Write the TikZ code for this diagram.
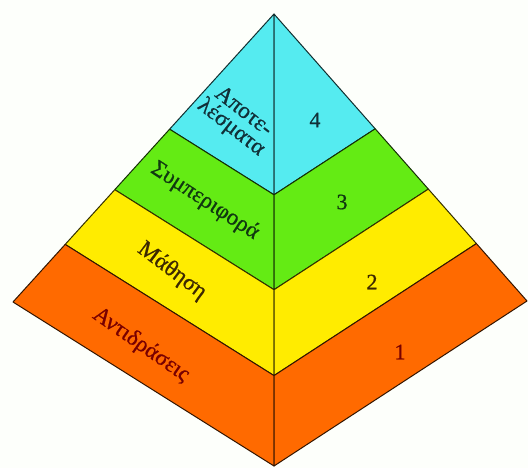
\documentclass[tikz,border=0pt]{standalone}
\usepackage{fontspec}
\setmainfont{Liberation Serif}
\newfontfamily\lblfont[FakeBold=0.8]{Liberation Serif}
\usetikzlibrary{calc}
\definecolor{bgw}{RGB}{253,255,251}
\definecolor{cyanL}{RGB}{85,235,240}
\definecolor{greenL}{RGB}{100,235,20}
\definecolor{yellowL}{RGB}{255,236,0}
\definecolor{orangeL}{RGB}{255,106,0}
\definecolor{tcyan}{RGB}{16,48,56}
\definecolor{tgreen}{RGB}{16,56,16}
\definecolor{tyellow}{RGB}{60,40,0}
\definecolor{torange}{RGB}{120,0,0}
\tikzset{
  face/.style={line width=1pt, line join=round},
  lbl/.style={font=\lblfont\fontsize{23}{20}\selectfont, inner sep=0pt, align=center},
  num/.style={font=\lblfont\fontsize{22}{22}\selectfont, inner sep=0pt}
}
\begin{document}
\begin{tikzpicture}[x=1pt,y=-1pt]
\useasboundingbox (0,0) rectangle (528,468);
\fill[bgw] (0,0) rectangle (528,468);
\coordinate (A) at (274,14);
\coordinate (L) at (13,302);
\coordinate (R) at (527,301);
\coordinate (B) at (274,466);
\foreach \tA/\tB/\cl in {0/0.4/cyanL, 0.4/0.61/greenL, 0.61/0.8/yellowL, 0.8/1/orangeL} {
  \filldraw[face, fill=\cl, draw=\cl!20!black]
    ($(A)!\tA!(L)$) -- ($(A)!\tA!(B)$) -- ($(A)!\tB!(B)$) -- ($(A)!\tB!(L)$) -- cycle;
  \filldraw[face, fill=\cl, draw=\cl!20!black]
    ($(A)!\tA!(R)$) -- ($(A)!\tA!(B)$) -- ($(A)!\tB!(B)$) -- ($(A)!\tB!(R)$) -- cycle;
}
\node[lbl, text=tcyan, rotate=-38] (l4) at (237,120) {Αποτε-\\λέσματα};
\node[lbl, text=tgreen, rotate=-33] (l3) at (205,201) {Συμπεριφορά};
\node[lbl, text=tyellow, rotate=-37] (l2) at (172,271) {Μάθηση};
\node[lbl, text=torange, rotate=-35] (l1) at (141,345) {Αντιδράσεις};
\node[num, text=tcyan] (n4) at (315,120) {4};
\node[num, text=tgreen] (n3) at (342,202) {3};
\node[num, text=tyellow] (n2) at (372,282) {2};
\node[num, text=torange] (n1) at (400,352) {1};
\end{tikzpicture}
\end{document}
